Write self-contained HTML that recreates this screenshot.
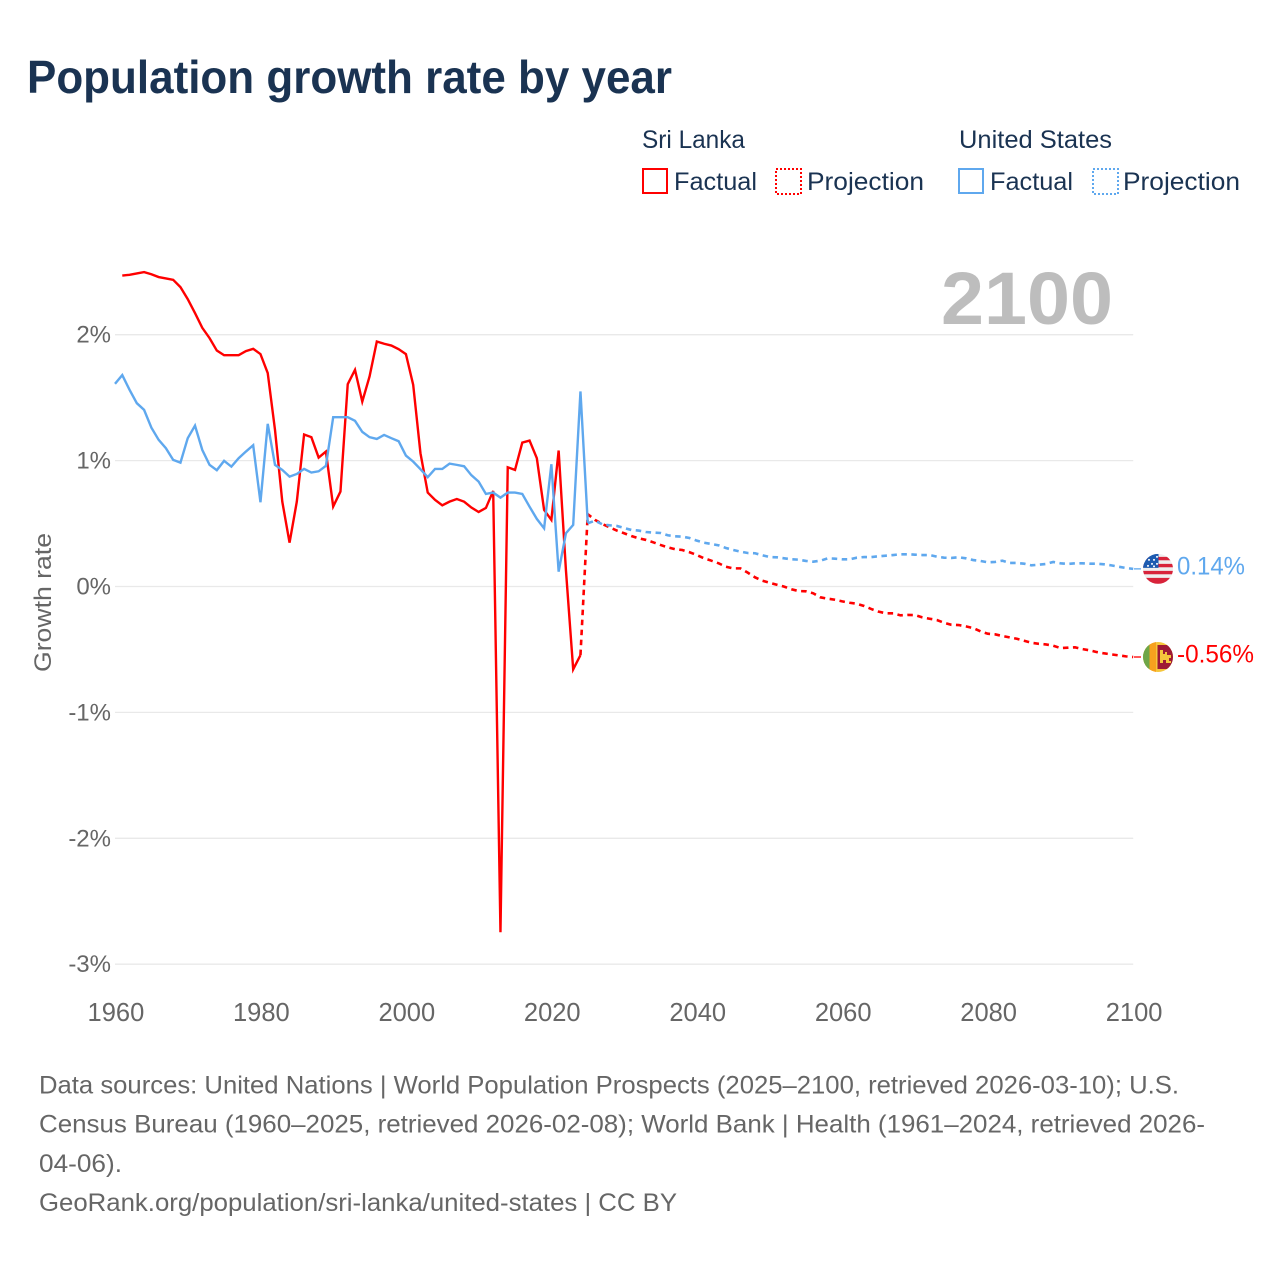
<!DOCTYPE html>
<html lang="en">
<head>
<meta charset="utf-8">
<title>Population growth rate by year</title>
<style>
html,body{margin:0;padding:0;background:#fff;}
svg{display:block;font-family:"Liberation Sans",sans-serif;}
</style>
</head>
<body>
<svg id="chart" width="1280" height="1280" viewBox="0 0 1280 1280" xmlns="http://www.w3.org/2000/svg">
<defs>
<clipPath id="flag-clip"><circle cx="0" cy="0" r="15"/></clipPath>
</defs>
<rect width="1280" height="1280" fill="#ffffff"/>
<text x="27" y="93" font-size="46" font-weight="700" fill="#1a3352" textLength="645" lengthAdjust="spacingAndGlyphs">Population growth rate by year</text>

<g font-size="25" fill="#1a3352">
<text x="642" y="148" textLength="103" lengthAdjust="spacingAndGlyphs">Sri Lanka</text>
<text x="959" y="148" textLength="153" lengthAdjust="spacingAndGlyphs">United States</text>
<rect x="643" y="169" width="24" height="24" fill="none" stroke="#ff0000" stroke-width="2"/>
<text x="674" y="190" textLength="83" lengthAdjust="spacingAndGlyphs">Factual</text>
<rect x="776" y="169" width="25" height="25" fill="none" stroke="#ff0000" stroke-width="2" stroke-dasharray="2 2"/>
<text x="807" y="190" textLength="117" lengthAdjust="spacingAndGlyphs">Projection</text>
<rect x="959" y="169" width="24" height="24" fill="none" stroke="#5fa8ee" stroke-width="2"/>
<text x="990" y="190" textLength="83" lengthAdjust="spacingAndGlyphs">Factual</text>
<rect x="1093" y="169" width="25" height="25" fill="none" stroke="#5fa8ee" stroke-width="2" stroke-dasharray="2 2"/>
<text x="1123" y="190" textLength="117" lengthAdjust="spacingAndGlyphs">Projection</text>
</g>

<g id="grid"></g>
<text x="941" y="324" font-size="74" font-weight="700" fill="#bdbdbd" textLength="172" lengthAdjust="spacingAndGlyphs">2100</text>
<g id="yticks" font-size="24" fill="#666666" text-anchor="end"></g>
<g id="xticks" font-size="25.5" fill="#666666" text-anchor="middle"></g>
<text transform="translate(51,672) rotate(-90)" font-size="24.500" fill="#666666" textLength="139" lengthAdjust="spacingAndGlyphs">Growth rate</text>
<g id="series"></g>

<g id="flag-us">
<g clip-path="url(#flag-clip)">
<rect x="-15" y="-15" width="30" height="30" fill="#eeeeee"/>
<rect x="-15" y="-12" width="30" height="3.4" fill="#d8233a"/>
<rect x="-15" y="-5" width="30" height="3.4" fill="#d8233a"/>
<rect x="-15" y="2" width="30" height="3.4" fill="#d8233a"/>
<rect x="-15" y="9" width="30" height="6" fill="#d8233a"/>
<rect x="-15" y="-15" width="15.500" height="14" fill="#1d5bb0"/>
<g fill="#ffffff">
<circle cx="-9" cy="-9" r="1"/><circle cx="-4" cy="-9" r="1"/><circle cx="-1" cy="-12" r="1"/>
<circle cx="-6" cy="-5" r="1"/><circle cx="-1" cy="-5" r="1"/><circle cx="-10" cy="-3" r="1"/><circle cx="-4" cy="-2.500" r="1"/>
</g>
</g>
</g>
<g id="flag-lk">
<g clip-path="url(#flag-clip)">
<rect x="-15" y="-15" width="30" height="30" fill="#f5c63c"/>
<rect x="-15" y="-15" width="6.500" height="30" fill="#6ea648"/>
<rect x="-8.500" y="-15" width="6.500" height="30" fill="#f7a11e"/>
<rect x="-0.500" y="-12" width="16" height="24" fill="#9e1a35"/>
<path d="M2 -7h3v4h2v-2h2v3h4v3h-2v3h2v2h-5v-3h-3v3h-3z" fill="#f5c63c"/>
</g>
</g>
<text id="end-label-us" x="1177" font-size="25" fill="#5fa8ee" textLength="68" lengthAdjust="spacingAndGlyphs"></text>
<text id="end-label-lk" x="1177" font-size="25" fill="#ff0000" textLength="77" lengthAdjust="spacingAndGlyphs"></text>

<g font-size="25" fill="#666666">
<text x="39" y="1093.500" textLength="1140" lengthAdjust="spacingAndGlyphs">Data sources: United Nations | World Population Prospects (2025–2100, retrieved 2026-03-10); U.S.</text>
<text x="39" y="1132.700" textLength="1166" lengthAdjust="spacingAndGlyphs">Census Bureau (1960–2025, retrieved 2026-02-08); World Bank | Health (1961–2024, retrieved 2026-</text>
<text x="39" y="1171.800" textLength="83" lengthAdjust="spacingAndGlyphs">04-06).</text>
<text x="39" y="1210.800" textLength="638" lengthAdjust="spacingAndGlyphs">GeoRank.org/population/sri-lanka/united-states | CC BY</text>
</g>
</svg>

<script>
const factualYears = [1960,1961,1962,1963,1964,1965,1966,1967,1968,1969,1970,1971,1972,1973,1974,1975,1976,1977,1978,1979,1980,1981,1982,1983,1984,1985,1986,1987,1988,1989,1990,1991,1992,1993,1994,1995,1996,1997,1998,1999,2000,2001,2002,2003,2004,2005,2006,2007,2008,2009,2010,2011,2012,2013,2014,2015,2016,2017,2018,2019,2020,2021,2022,2023,2024,2025];
const projectionYears = [2024,2025,2026,2027,2028,2029,2030,2031,2032,2033,2034,2035,2036,2037,2038,2039,2040,2041,2042,2043,2044,2045,2046,2047,2048,2049,2050,2051,2052,2053,2054,2055,2056,2057,2058,2059,2060,2061,2062,2063,2064,2065,2066,2067,2068,2069,2070,2071,2072,2073,2074,2075,2076,2077,2078,2079,2080,2081,2082,2083,2084,2085,2086,2087,2088,2089,2090,2091,2092,2093,2094,2095,2096,2097,2098,2099,2100];
const sriLankaFactual = [null,2.47,2.476,2.487,2.497,2.48,2.458,2.447,2.436,2.378,2.283,2.172,2.055,1.973,1.874,1.837,1.837,1.837,1.87,1.888,1.846,1.695,1.244,0.674,0.348,0.674,1.207,1.186,1.024,1.072,0.635,0.754,1.607,1.721,1.469,1.668,1.946,1.928,1.914,1.885,1.846,1.602,1.059,0.746,0.688,0.645,0.674,0.695,0.674,0.627,0.592,0.624,0.759,-2.746,0.947,0.926,1.143,1.159,1.019,0.608,0.529,1.08,0.131,-0.658,-0.545,null];
const unitedStatesFactual = [1.61,1.679,1.562,1.456,1.403,1.262,1.165,1.098,1.006,0.984,1.178,1.278,1.085,0.966,0.924,0.998,0.952,1.019,1.072,1.122,0.669,1.292,0.966,0.926,0.873,0.894,0.934,0.905,0.915,0.958,1.345,1.345,1.345,1.316,1.228,1.186,1.172,1.204,1.178,1.154,1.04,0.992,0.932,0.868,0.934,0.934,0.976,0.966,0.955,0.884,0.833,0.735,0.746,0.706,0.746,0.746,0.735,0.634,0.537,0.462,0.971,0.118,0.423,0.489,1.549,0.507];
const sriLankaProjection = [-0.545,0.574,0.529,0.497,0.47,0.444,0.423,0.401,0.383,0.37,0.351,0.33,0.311,0.296,0.29,0.272,0.25,0.224,0.205,0.184,0.157,0.144,0.144,0.11,0.073,0.046,0.03,0.014,-0.001,-0.022,-0.036,-0.038,-0.054,-0.086,-0.097,-0.105,-0.118,-0.129,-0.137,-0.155,-0.179,-0.2,-0.213,-0.213,-0.229,-0.226,-0.227,-0.245,-0.256,-0.266,-0.288,-0.304,-0.306,-0.317,-0.33,-0.356,-0.375,-0.38,-0.393,-0.404,-0.415,-0.431,-0.447,-0.455,-0.46,-0.47,-0.489,-0.486,-0.483,-0.497,-0.507,-0.521,-0.531,-0.539,-0.547,-0.555,-0.56];
const unitedStatesProjection = [null,0.502,0.523,0.494,0.486,0.481,0.465,0.449,0.444,0.433,0.428,0.425,0.407,0.399,0.396,0.385,0.364,0.348,0.338,0.327,0.306,0.29,0.277,0.266,0.264,0.248,0.234,0.232,0.224,0.216,0.213,0.203,0.197,0.205,0.224,0.221,0.216,0.216,0.229,0.234,0.234,0.24,0.245,0.25,0.256,0.256,0.253,0.25,0.25,0.237,0.229,0.227,0.232,0.224,0.21,0.203,0.192,0.195,0.205,0.187,0.187,0.181,0.168,0.173,0.179,0.195,0.184,0.179,0.184,0.184,0.181,0.181,0.176,0.168,0.157,0.147,0.14];
const xTickYears = [1960,1980,2000,2020,2040,2060,2080,2100];
const yTickValues = [2,1,0,-1,-2,-3];

const NS = 'http://www.w3.org/2000/svg';
const COLOR_LK = '#ff0000';
const COLOR_US = '#5fa8ee';
const xScale = function (year) { return 115 + (year - 1960) * (1133.2 - 115) / (2100 - 1960); };
const yScale = function (value) { return 586.5 - value * 125.9; };

function linePath(years, values) {
  let d = '';
  let started = false;
  for (let i = 0; i < years.length; i++) {
    if (values[i] === null) continue;
    d += (started ? 'L' : 'M') + xScale(years[i]).toFixed(2) + ' ' + yScale(values[i]).toFixed(2);
    started = true;
  }
  return d;
}

const gridGroup = document.getElementById('grid');
const yTickGroup = document.getElementById('yticks');
yTickValues.forEach(function (v) {
  const line = document.createElementNS(NS, 'line');
  
  
  line.setAttribute('x1', xScale(1960));
  line.setAttribute('x2', xScale(2100));
  line.setAttribute('y1', yScale(v));
  line.setAttribute('y2', yScale(v));
  line.setAttribute('stroke', '#e9e9e9');
  line.setAttribute('stroke-width', '1.3');
  gridGroup.appendChild(line);
  const t = document.createElementNS(NS, 'text');
  
  
  t.setAttribute('x', 111);
  t.setAttribute('y', yScale(v) + 8);
  t.textContent = v + '%';
  yTickGroup.appendChild(t);
});

const xTickGroup = document.getElementById('xticks');
xTickYears.forEach(function (year) {
  const t = document.createElementNS(NS, 'text');
  
  
  t.setAttribute('x', xScale(year) + 0.9);
  t.setAttribute('y', 1021);
  t.textContent = year;
  xTickGroup.appendChild(t);
});

const seriesGroup = document.getElementById('series');
function addLine(years, values, color, dashed, name) {
  const p = document.createElementNS(NS, 'path');
  
  
  p.setAttribute('d', linePath(years, values));
  p.setAttribute('fill', 'none');
  p.setAttribute('stroke', color);
  p.setAttribute('stroke-width', dashed ? '2.6' : '2.4');
  p.setAttribute('stroke-linejoin', 'miter');
  if (dashed) p.setAttribute('stroke-dasharray', '5.5 4.5');
  seriesGroup.appendChild(p);
}
addLine(factualYears, sriLankaFactual, COLOR_LK, false, 'sri-lanka-factual-line');
addLine(projectionYears, sriLankaProjection, COLOR_LK, true, 'sri-lanka-projection-line');
addLine(factualYears, unitedStatesFactual, COLOR_US, false, 'united-states-factual-line');
addLine(projectionYears, unitedStatesProjection, COLOR_US, true, 'united-states-projection-line');

function addEnd(values, color, flagId, labelId, name) {
  const last = values[values.length - 1];
  const y = yScale(last);
  const c = document.createElementNS(NS, 'line');
  
  
  c.setAttribute('x1', 1134);
  c.setAttribute('x2', 1141);
  c.setAttribute('y1', y);
  c.setAttribute('y2', y);
  c.setAttribute('stroke', color);
  c.setAttribute('stroke-width', '1.3');
  seriesGroup.appendChild(c);
  document.getElementById(flagId).setAttribute('transform', 'translate(1158,' + y + ')');
  const label = document.getElementById(labelId);
  label.setAttribute('y', y + 5.5);
  label.textContent = last.toFixed(2) + '%';
}
addEnd(unitedStatesProjection, COLOR_US, 'flag-us', 'end-label-us', 'united-states-end-connector');
addEnd(sriLankaProjection, COLOR_LK, 'flag-lk', 'end-label-lk', 'sri-lanka-end-connector');
</script>
</body>
</html>
